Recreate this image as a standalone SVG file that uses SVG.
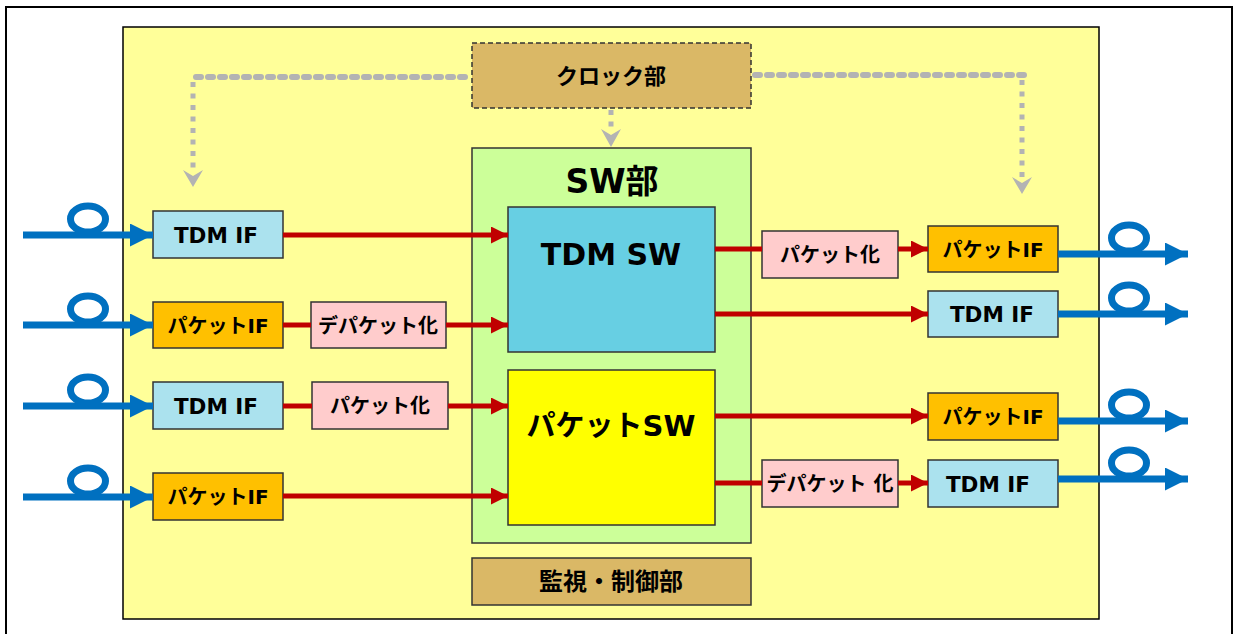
<svg xmlns="http://www.w3.org/2000/svg" width="1236" height="634" viewBox="0 0 1236 634">
<style>
.box{stroke:#333;stroke-width:1.5}
.t{font-family:"DejaVu Sans","Noto Sans CJK JP",sans-serif;font-weight:bold;fill:#000;text-anchor:middle}
.s20{font-size:20px}
.s21{font-size:21.5px}
.tdm{fill:#abe2ee}
.pif{fill:#ffc000}
.pk{fill:#ffcccc}
.tan{fill:#dab866}
.red{stroke:#c00000;stroke-width:5;fill:none}
.blue{stroke:#0070c0;stroke-width:7;fill:none}
.hd{stroke:#b3b3b3;stroke-width:6;stroke-linecap:round;stroke-dasharray:5 7;fill:none}
.vd{stroke:#b3b3b3;stroke-width:5;stroke-dasharray:5 6.5;fill:none}
.gh{fill:#b3b3b3}
</style>
<defs>
<marker id="ar" markerUnits="userSpaceOnUse" markerWidth="18" markerHeight="18" refX="17" refY="8.5" orient="auto">
<path d="M0,0 L17,8.5 L0,17 z" fill="#c00000"/>
</marker>
<marker id="ab" markerUnits="userSpaceOnUse" markerWidth="24" markerHeight="24" refX="23" refY="11.5" orient="auto">
<path d="M0,0 L23,11.5 L0,23 z" fill="#0070c0"/>
</marker>
</defs>
<rect x="0" y="0" width="1236" height="634" fill="#fff"/>
<rect x="6" y="7" width="1226" height="700" fill="#fff" stroke="#000" stroke-width="2"/>
<g id="main">
<rect x="123" y="27" width="976" height="592" fill="#ffff99" stroke="#000" stroke-width="1.5"/>
</g>
<g id="clock">
<rect x="472" y="43" width="279" height="65" class="tan" stroke="#333" stroke-width="1.5" stroke-dasharray="5 3"/>
<text x="611" y="84" class="t" font-size="22">クロック部</text>
</g>
<g id="sw">
<rect x="472" y="148" width="279" height="395" fill="#ccff99" class="box"/>
<text x="612" y="193" class="t" font-size="33">SW部</text>
</g>
<g id="tdmsw">
<rect x="508" y="207" width="207" height="145" fill="#67cfe3" class="box"/>
<text x="611" y="265" class="t" font-size="30">TDM SW</text>
</g>
<g id="pktsw">
<rect x="508" y="370" width="207" height="155" fill="#ffff00" class="box"/>
<text x="611" y="436" class="t" font-size="29">パケットSW</text>
</g>
<g id="kanshi">
<rect x="472" y="558" width="279" height="47" class="tan box"/>
<text x="611" y="590" class="t" font-size="24">監視・制御部</text>
</g>
<g id="in1"><rect x="153" y="211" width="130" height="47" class="tdm box"/><text x="216" y="243" class="t s21">TDM IF</text></g>
<g id="in2"><rect x="153" y="302" width="130" height="46" class="pif box"/><text x="218" y="333" class="t s20">パケットIF</text></g>
<g id="depk1"><rect x="311" y="302" width="135" height="46" class="pk box"/><text x="378" y="333" class="t s20">デパケット化</text></g>
<g id="in3"><rect x="153" y="382" width="130" height="47" class="tdm box"/><text x="216" y="414" class="t s21">TDM IF</text></g>
<g id="pk1"><rect x="312" y="382" width="136" height="47" class="pk box"/><text x="380" y="413" class="t s20">パケット化</text></g>
<g id="in4"><rect x="153" y="473" width="130" height="47" class="pif box"/><text x="218" y="504" class="t s20">パケットIF</text></g>
<g id="pk2"><rect x="762" y="231" width="136" height="47" class="pk box"/><text x="830" y="262" class="t s20">パケット化</text></g>
<g id="out1"><rect x="928" y="226" width="130" height="46" class="pif box"/><text x="993" y="257" class="t s20">パケットIF</text></g>
<g id="out2"><rect x="928" y="291" width="130" height="46" class="tdm box"/><text x="992" y="322" class="t s21">TDM IF</text></g>
<g id="out3"><rect x="928" y="393" width="130" height="47" class="pif box"/><text x="993" y="424" class="t s20">パケットIF</text></g>
<g id="depk2"><rect x="762" y="460" width="136" height="47" class="pk box"/><text x="830" y="491" class="t s20">デパケット 化</text></g>
<g id="out4"><rect x="928" y="460" width="130" height="47" class="tdm box"/><text x="988" y="492" class="t s21">TDM IF</text></g>
<g id="connectors">
<path class="hd" d="M465,77 H190"/>
<path class="vd" d="M193,82 V170"/>
<polygon class="gh" points="183,170 193,176 203,170 193,187"/>
<path class="hd" d="M755,75 H1025"/>
<path class="vd" d="M1022,80 V177"/>
<polygon class="gh" points="1012,177 1022,183 1032,177 1022,194"/>
<path class="vd" d="M611,110 V128"/>
<polygon class="gh" points="601,129 611,135 621,129 611,147"/>
<path class="red" d="M283,235 H508" marker-end="url(#ar)"/>
<path class="red" d="M283,325 H311"/>
<path class="red" d="M446,325 H508" marker-end="url(#ar)"/>
<path class="red" d="M283,406 H312"/>
<path class="red" d="M448,406 H508" marker-end="url(#ar)"/>
<path class="red" d="M283,496 H508" marker-end="url(#ar)"/>
<path class="red" d="M715,249 H762"/>
<path class="red" d="M898,249 H928" marker-end="url(#ar)"/>
<path class="red" d="M715,314 H928" marker-end="url(#ar)"/>
<path class="red" d="M715,416 H928" marker-end="url(#ar)"/>
<path class="red" d="M715,483 H762"/>
<path class="red" d="M898,483 H928" marker-end="url(#ar)"/>
<ellipse class="blue" cx="88" cy="219" rx="17.5" ry="13"/>
<path class="blue" d="M23,235 H153" marker-end="url(#ab)"/>
<ellipse class="blue" cx="88" cy="309" rx="17.5" ry="13"/>
<path class="blue" d="M23,325 H153" marker-end="url(#ab)"/>
<ellipse class="blue" cx="88" cy="390" rx="17.5" ry="13"/>
<path class="blue" d="M23,406 H153" marker-end="url(#ab)"/>
<ellipse class="blue" cx="88" cy="481" rx="17.5" ry="13"/>
<path class="blue" d="M23,497 H153" marker-end="url(#ab)"/>
<ellipse class="blue" cx="1129" cy="238" rx="17.5" ry="13"/>
<path class="blue" d="M1058,254 H1188" marker-end="url(#ab)"/>
<ellipse class="blue" cx="1129" cy="298" rx="17.5" ry="13"/>
<path class="blue" d="M1058,314 H1188" marker-end="url(#ab)"/>
<ellipse class="blue" cx="1129" cy="405" rx="17.5" ry="13"/>
<path class="blue" d="M1058,421 H1188" marker-end="url(#ab)"/>
<ellipse class="blue" cx="1129" cy="463" rx="17.5" ry="13"/>
<path class="blue" d="M1058,479 H1188" marker-end="url(#ab)"/>
</g>
</svg>
